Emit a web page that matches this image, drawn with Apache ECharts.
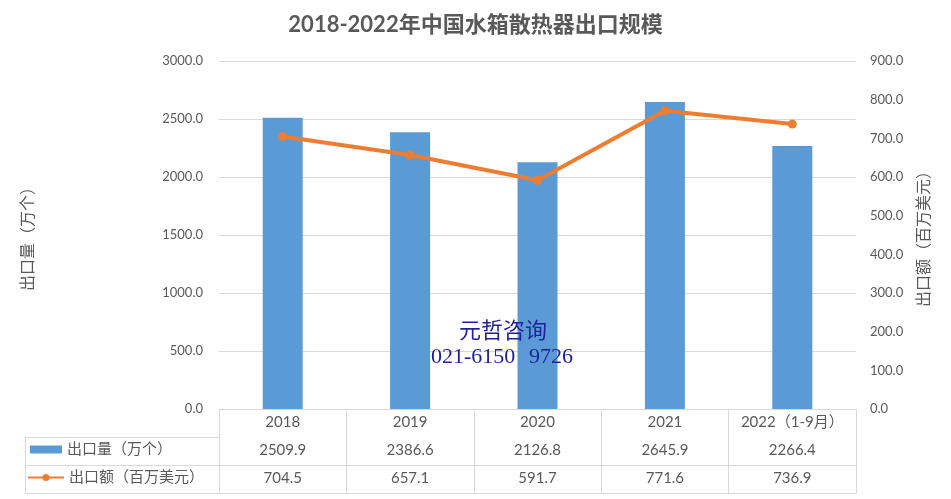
<!DOCTYPE html>
<html>
<head>
<meta charset="utf-8">
<script src="https://cdn.jsdelivr.net/npm/echarts@6/dist/echarts.min.js"></script>
<style>
  html, body { margin: 0; padding: 0; background: #fff; }
  #chart { width: 951px; height: 499px; }
</style>
</head>
<body>
<div id="chart"></div>
<script>
const years = ["2018", "2019", "2020", "2021", "2022（1-9月）"];
const volume = [2509.9, 2386.6, 2126.8, 2645.9, 2266.4];   // 出口量（万个）
const amount = [704.5, 657.1, 591.7, 771.6, 736.9];        // 出口额（百万美元）
const volName = "出口量（万个）";
const amtName = "出口额（百万美元）";

const txt = "#595959";
const border = "#d9d9d9";
const font = "Lato, 'Noto Sans CJK SC', sans-serif";

// table rows under the plot are extra category axes shifted down
function tableAxis(offset, labels) {
  return {
    type: "category",
    data: years,
    position: "bottom",
    offset: offset,
    axisLine: { show: true, lineStyle: { color: border, width: 1 } },
    axisTick: { show: false },
    axisLabel: {
      show: !!labels,
      color: txt, fontSize: 15, fontFamily: font, margin: 6,
      formatter: (v, i) => labels ? labels[i].toFixed(1) : ""
    },
    splitLine: { show: false }
  };
}

const chart = echarts.init(document.getElementById("chart"));
chart.setOption({
  backgroundColor: "#fff",
  title: {
    text: "2018-2022年中国水箱散热器出口规模",
    left: "center", top: 9,
    textStyle: { color: txt, fontSize: 22, fontWeight: "bold", fontFamily: font }
  },
  legend: [
    { data: [{ name: volName, icon: "rect" }], left: 30, top: 442, padding: 0, itemWidth: 32, itemHeight: 8,
      textStyle: { color: txt, fontSize: 15, fontFamily: font }, selectedMode: false },
    { data: [amtName], left: 27, top: 470, padding: 0, itemWidth: 36, itemHeight: 9,
      textStyle: { color: txt, fontSize: 15, fontFamily: font }, selectedMode: false }
  ],
  grid: { left: 219, right: 95, top: 61, bottom: 90 },
  xAxis: [
    {
      type: "category",
      data: years,
      position: "bottom",
      axisLine: { show: true, lineStyle: { color: border } },
      axisTick: { show: true, length: 84, lineStyle: { color: border } },
      axisLabel: { color: txt, fontSize: 15, fontFamily: font, margin: 6, interval: 0 },
      splitLine: { show: false }
    },
    tableAxis(28, volume),
    tableAxis(56, amount),
    tableAxis(84, null)
  ],
  yAxis: [
    {
      type: "value", min: 0, max: 3000, interval: 500,
      name: volName, nameLocation: "middle", nameGap: 183, nameRotate: 90,
      nameTextStyle: { color: txt, fontSize: 16, fontFamily: font },
      axisLine: { show: false }, axisTick: { show: false },
      axisLabel: { color: txt, fontSize: 13, fontFamily: font, margin: 16, formatter: v => v.toFixed(1) },
      splitLine: { lineStyle: { color: border } }
    },
    {
      type: "value", min: 0, max: 900, interval: 100, position: "right",
      name: amtName, nameLocation: "middle", nameGap: 60, nameRotate: 90,
      nameTextStyle: { color: txt, fontSize: 16, fontFamily: font },
      axisLine: { show: false }, axisTick: { show: false },
      axisLabel: { color: txt, fontSize: 13, fontFamily: font, margin: 14, formatter: v => v.toFixed(1) },
      splitLine: { show: false }
    }
  ],
  series: [
    {
      name: volName, type: "bar", data: volume, barWidth: 40,
      xAxisIndex: 0, yAxisIndex: 0,
      itemStyle: { color: "#5b9bd5" }
    },
    {
      name: amtName, type: "line", data: amount,
      xAxisIndex: 0, yAxisIndex: 1,
      symbol: "circle", symbolSize: 9,
      lineStyle: { color: "#ed7d31", width: 4 },
      itemStyle: { color: "#ed7d31" }
    }
  ],
  graphic: [
    // left part of the table (row header column)
    { type: "line", shape: { x1: 25, y1: 437.5, x2: 219, y2: 437.5 }, style: { stroke: border } },
    { type: "line", shape: { x1: 25, y1: 465.5, x2: 219, y2: 465.5 }, style: { stroke: border } },
    { type: "line", shape: { x1: 25, y1: 493.5, x2: 219, y2: 493.5 }, style: { stroke: border } },
    { type: "line", shape: { x1: 25.5, y1: 437, x2: 25.5, y2: 494 }, style: { stroke: border } },
    // watermark
    { type: "text", left: 459, top: 321, z: 100,
      style: { text: "元哲咨询", fill: "#1f1f9a", font: "22px 'Liberation Serif', 'Noto Sans CJK SC', serif" } },
    { type: "text", left: 431, top: 346, z: 100,
      style: { text: "021-6150", fill: "#1f1f9a", font: "22px 'Liberation Serif', serif" } },
    { type: "text", left: 529, top: 346, z: 100,
      style: { text: "9726", fill: "#1f1f9a", font: "22px 'Liberation Serif', serif" } }
  ]
});
</script>
</body>
</html>
